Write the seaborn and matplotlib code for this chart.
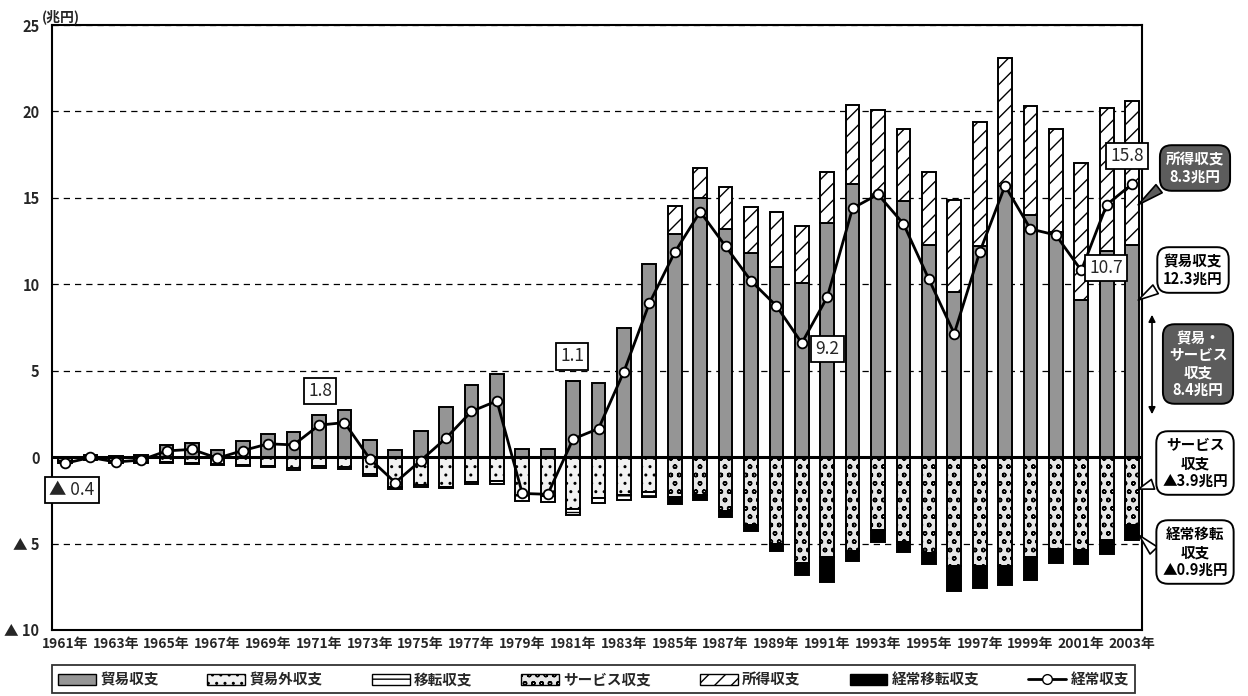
import numpy as np
import pandas as pd
import matplotlib.pyplot as plt
import seaborn as sns
from matplotlib.patches import Patch
from matplotlib.lines import Line2D

sns.set_style("white")
plt.rcParams["font.family"] = ["Noto Sans CJK JP", "DejaVu Sans"]
plt.rcParams["hatch.linewidth"] = 1.0
plt.rcParams["axes.unicode_minus"] = False

# ---- data (兆円) ----
years = list(range(1961, 2004))

# 旧統計 1961-1984
trade_old = [-0.20, 0.14, 0.06, 0.14, 0.70, 0.82, 0.42, 0.91, 1.33, 1.43, 2.45, 2.70,
             1.00, 0.40, 1.50, 2.90, 4.20, 4.80, 0.45, 0.45, 4.40, 4.30, 7.45, 11.20]
invisible = [-0.14, -0.15, -0.28, -0.28, -0.30, -0.32, -0.42, -0.47, -0.50, -0.64, -0.50, -0.55,
             -0.95, -1.75, -1.60, -1.70, -1.45, -1.40, -2.20, -2.25, -3.00, -2.35, -2.20, -2.00]
transfer_old = [-0.02, -0.01, -0.06, -0.03, -0.04, -0.05, -0.06, -0.06, -0.06, -0.08, -0.10, -0.15,
                -0.15, -0.12, -0.10, -0.10, -0.10, -0.15, -0.35, -0.35, -0.35, -0.30, -0.30, -0.30]

# 新統計 1985-2003
trade_new = [12.9, 15.0, 13.2, 11.8, 11.0, 10.05, 13.55, 15.8, 15.1, 14.8,
             12.3, 9.55, 12.2, 15.7, 14.0, 13.0, 9.1, 11.9, 12.3]
services = [-2.3, -2.2, -3.1, -3.9, -5.0, -6.1, -5.8, -5.45, -4.2, -4.9,
            -5.55, -6.3, -6.3, -6.3, -5.8, -5.3, -5.35, -4.8, -3.9]
income = [1.65, 1.7, 2.45, 2.7, 3.2, 3.35, 2.95, 4.6, 5.0, 4.2,
          4.2, 5.35, 7.2, 7.4, 6.3, 6.0, 7.9, 8.3, 8.3]
cur_transfer = [-0.4, -0.3, -0.35, -0.4, -0.45, -0.7, -1.45, -0.55, -0.7, -0.6,
                -0.65, -1.45, -1.25, -1.1, -1.3, -0.85, -0.85, -0.8, -0.9]

current = [-0.36, -0.02, -0.28, -0.17, 0.36, 0.45, -0.06, 0.38, 0.77, 0.71, 1.85, 2.0,
           -0.1, -1.47, -0.2, 1.1, 2.65, 3.25, -2.1, -2.15, 1.05, 1.65, 4.95, 8.9,
           11.85, 14.2, 12.2, 10.2, 8.75, 6.6, 9.25, 14.4, 15.2, 13.5, 10.3, 7.15,
           11.85, 15.7, 13.2, 12.85, 10.8, 14.6, 15.8]

xtick_labels = [f"{y}年" for y in years[::2]]
ytick_values = [-10, -5, 0, 5, 10, 15, 20, 25]
ytick_labels = ["▲ 10", "▲ 5", "0", "5", "10", "15", "20", "25"]

n_old = len(trade_old)
n_new = len(trade_new)
frame = pd.DataFrame({"year": years})
frame["貿易収支"] = trade_old + trade_new
frame["貿易外収支"] = invisible + [np.nan] * n_new
frame["移転収支"] = transfer_old + [np.nan] * n_new
frame["サービス収支"] = [np.nan] * n_old + services
frame["所得収支"] = [np.nan] * n_old + income
frame["経常移転収支"] = [np.nan] * n_old + cur_transfer

styles = {
    "貿易収支": dict(color="#959595", hatch=None),
    "貿易外収支": dict(color="#f2f2f2", hatch=".."),
    "移転収支": dict(color="white", hatch="--"),
    "サービス収支": dict(color="#e6e6e6", hatch="oo"),
    "所得収支": dict(color="white", hatch="//"),
    "経常移転収支": dict(color="black", hatch=None),
}

# ---- figure ----
fig = plt.figure(figsize=(12.48, 6.96), dpi=100)
ax = fig.add_axes([52 / 1248, 66 / 696, 1090 / 1248, 605 / 696])

pos_base = np.zeros(len(years))
neg_base = np.zeros(len(years))
for name, st in styles.items():
    vals = frame[name].to_numpy(dtype=float)
    v = np.nan_to_num(vals)
    bottom = np.where(v >= 0, pos_base, neg_base)
    pos_base = pos_base + np.where(v > 0, v, 0)
    neg_base = neg_base + np.where(v < 0, v, 0)
    sub = pd.DataFrame({"year": years, "value": vals, "bottom": bottom}).dropna()
    sns.barplot(data=sub, x="year", y="value", native_scale=True,
                bottom=sub["bottom"].to_numpy(), width=0.54, color=st["color"],
                saturation=1, edgecolor="black", linewidth=1.4, hatch=st["hatch"],
                errorbar=None, ax=ax, zorder=2)

sns.lineplot(x=years, y=current, ax=ax, color="black", lw=2, marker="o",
             markersize=7, markerfacecolor="white", markeredgecolor="black",
             markeredgewidth=1.3, zorder=5, legend=False)

ax.axhline(0, color="black", lw=2.2, zorder=4)
ax.set_ylim(-10, 25)
ax.set_xlim(1960.49, 2003.39)
ax.set_yticks(ytick_values)
ax.set_yticklabels(ytick_labels, fontsize=10.5, fontweight="bold")
ax.set_xticks(years[::2])
ax.set_xticklabels(xtick_labels, fontsize=10, fontweight="bold")
ax.tick_params(axis="both", length=0)
ax.tick_params(axis="y", pad=9)
ax.tick_params(axis="x", pad=5)
ax.set_xlabel("")
ax.set_ylabel("")
ax.grid(axis="y", ls=(0, (5, 4)), color="black", lw=0.9)
ax.set_axisbelow(True)
for sp in ax.spines.values():
    sp.set_color("black")
    sp.set_linewidth(1.5)

fig.text(42 / 1248, 1 - 17 / 696, "(兆円)", fontsize=10, fontweight="bold",
         ha="left", va="center")

# value labels
box = dict(boxstyle="square,pad=0.25", fc="white", ec="black", lw=1.3)
for x, y, txt in [(1961.28, -1.91, "▲ 0.4"), (1971.04, 3.82, "1.8"),
                  (1980.96, 5.84, "1.1"), (1991.0, 6.25, "9.2"),
                  (2001.98, 10.94, "10.7"), (2002.8, 17.42, "15.8")]:
    ax.text(x, y, txt, ha="center", va="center", fontsize=12.5, bbox=box, zorder=7)

# right-side callouts
dark = "#5c5c5c"
callouts = [
    ("所得収支\n8.3兆円", (1195, 168), (2003.15, 14.5), dark, "white"),
    ("貿易収支\n12.3兆円", (1193, 270), (2003.15, 9.0), "white", "black"),
    ("サービス\n収支\n▲3.9兆円", (1195, 463), (2003.15, -1.9), "white", "black"),
    ("経常移転\n収支\n▲0.9兆円", (1195, 552), (2003.2, -4.4), "white", "black"),
]
for txt, (px, py), xy, fc, tc in callouts:
    ax.annotate(txt, xy=xy, xycoords="data", xytext=(px, 696 - py),
                textcoords="figure pixels", ha="center", va="center",
                fontsize=10.5, fontweight="bold", color=tc, linespacing=1.15,
                bbox=dict(boxstyle="round,pad=0.4,rounding_size=0.8", fc=fc,
                          ec="black", lw=1.4),
                arrowprops=dict(arrowstyle="wedge,tail_width=0.7", fc=fc,
                                ec="black", lw=1.2, relpos=(0.12, 0.2)),
                annotation_clip=False, zorder=8)

fig.text(1198 / 1248, 1 - 364 / 696, "貿易・\nサービス\n収支\n8.4兆円",
         ha="center", va="center", fontsize=10.5, fontweight="bold", color="white",
         linespacing=1.1,
         bbox=dict(boxstyle="round,pad=0.4,rounding_size=0.8", fc=dark, ec="black", lw=1.4))
ax.annotate("", xy=(1152, 696 - 417), xycoords="figure pixels",
            xytext=(1152, 696 - 312), textcoords="figure pixels",
            arrowprops=dict(arrowstyle="<|-|>", color="black", lw=1.2, mutation_scale=10))

# legend
handles = [Patch(facecolor=st["color"], hatch=st["hatch"], edgecolor="black", lw=1.0,
                 label=name) for name, st in styles.items()]
handles.append(Line2D([], [], color="black", lw=2, marker="o", markersize=7,
                      markerfacecolor="white", markeredgecolor="black", label="経常収支"))
leg = fig.legend(handles=handles, loc="lower left", ncol=7, mode="expand",
                 bbox_to_anchor=(52 / 1248, 3 / 696, 1083 / 1248, 36 / 696),
                 frameon=True, fancybox=False, edgecolor="black", fontsize=10.5,
                 handlelength=2.6, handleheight=0.8, handletextpad=0.3,
                 borderaxespad=0)
leg.get_frame().set_linewidth(1.3)
for t in leg.get_texts():
    t.set_fontweight("bold")

fig.savefig("out.png", dpi=100, facecolor="white")
